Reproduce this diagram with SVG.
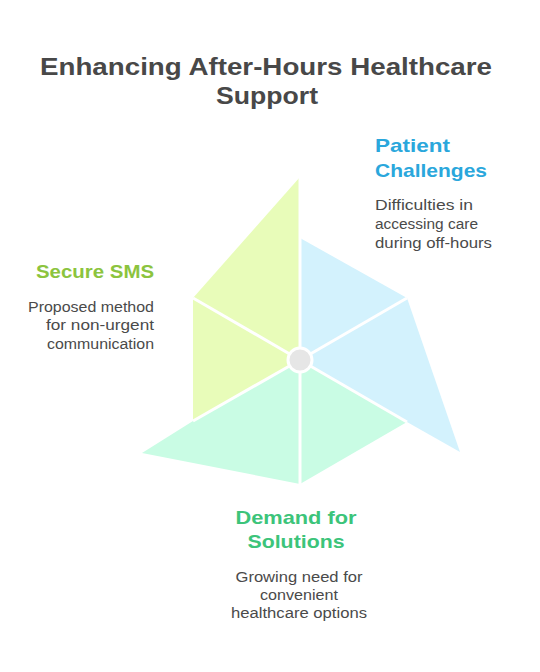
<svg xmlns="http://www.w3.org/2000/svg" width="540" height="672" viewBox="0 0 540 672">
<style>
.title{font-family:"Liberation Sans",Arial,sans-serif;font-weight:bold;font-size:24px;fill:#484848}
.head{font-family:"Liberation Sans",Arial,sans-serif;font-weight:bold;font-size:19px}
.desc{font-family:"Liberation Sans",Arial,sans-serif;font-size:14px;fill:#4a4a4a}
.sep{stroke:#ffffff;stroke-width:3;fill:none}
</style>
<rect width="540" height="672" fill="#ffffff"/>
<g id="title">
<text class="title" x="266" y="75" text-anchor="middle" textLength="452" lengthAdjust="spacingAndGlyphs">Enhancing After-Hours Healthcare</text>
<text class="title" x="267" y="104" text-anchor="middle" textLength="102" lengthAdjust="spacingAndGlyphs">Support</text>
</g>
<g id="secure-sms">
<polygon points="300,360 300,177 193,298 193,421" fill="#e8fcb9"/>
<text class="head" x="154" y="278" text-anchor="end" fill="#8cc43e" textLength="118" lengthAdjust="spacingAndGlyphs">Secure SMS</text>
<text class="desc" x="154" y="312" text-anchor="end" textLength="126" lengthAdjust="spacingAndGlyphs">Proposed method</text>
<text class="desc" x="154" y="330" text-anchor="end" textLength="108" lengthAdjust="spacingAndGlyphs">for non-urgent</text>
<text class="desc" x="154" y="349" text-anchor="end" textLength="107" lengthAdjust="spacingAndGlyphs">communication</text>
</g>
<g id="patient-challenges">
<polygon points="300,360 300,238 407,298 460,452 407,422" fill="#d3f2fd"/>
<text class="head" x="375" y="152" fill="#2aa7dc" textLength="75" lengthAdjust="spacingAndGlyphs">Patient</text>
<text class="head" x="375" y="177" fill="#2aa7dc" textLength="112" lengthAdjust="spacingAndGlyphs">Challenges</text>
<text class="desc" x="375" y="210" textLength="98" lengthAdjust="spacingAndGlyphs">Difficulties in</text>
<text class="desc" x="375" y="229" textLength="103" lengthAdjust="spacingAndGlyphs">accessing care</text>
<text class="desc" x="375" y="248" textLength="117" lengthAdjust="spacingAndGlyphs">during off-hours</text>
</g>
<g id="demand-for-solutions">
<polygon points="300,360 407,422 300,484 142,453 193,421" fill="#c9fce4"/>
<text class="head" x="296" y="524" text-anchor="middle" fill="#3cc47a" textLength="121" lengthAdjust="spacingAndGlyphs">Demand for</text>
<text class="head" x="296" y="548" text-anchor="middle" fill="#3cc47a" textLength="97" lengthAdjust="spacingAndGlyphs">Solutions</text>
<text class="desc" x="299" y="582" text-anchor="middle" textLength="127" lengthAdjust="spacingAndGlyphs">Growing need for</text>
<text class="desc" x="299" y="600" text-anchor="middle" textLength="78" lengthAdjust="spacingAndGlyphs">convenient</text>
<text class="desc" x="299" y="618" text-anchor="middle" textLength="136" lengthAdjust="spacingAndGlyphs">healthcare options</text>
</g>
<g id="connectors">
<line class="sep" x1="300" y1="360" x2="300" y2="177"/>
<line class="sep" x1="300" y1="360" x2="407" y2="298"/>
<line class="sep" x1="300" y1="360" x2="407" y2="422"/>
<line class="sep" x1="300" y1="360" x2="300" y2="485"/>
<line class="sep" x1="300" y1="360" x2="193" y2="421"/>
<line class="sep" x1="300" y1="360" x2="193" y2="298"/>
</g>
<g id="center">
<circle cx="300" cy="360" r="12" fill="#e6e6e6" stroke="#ffffff" stroke-width="3"/>
</g>
</svg>
